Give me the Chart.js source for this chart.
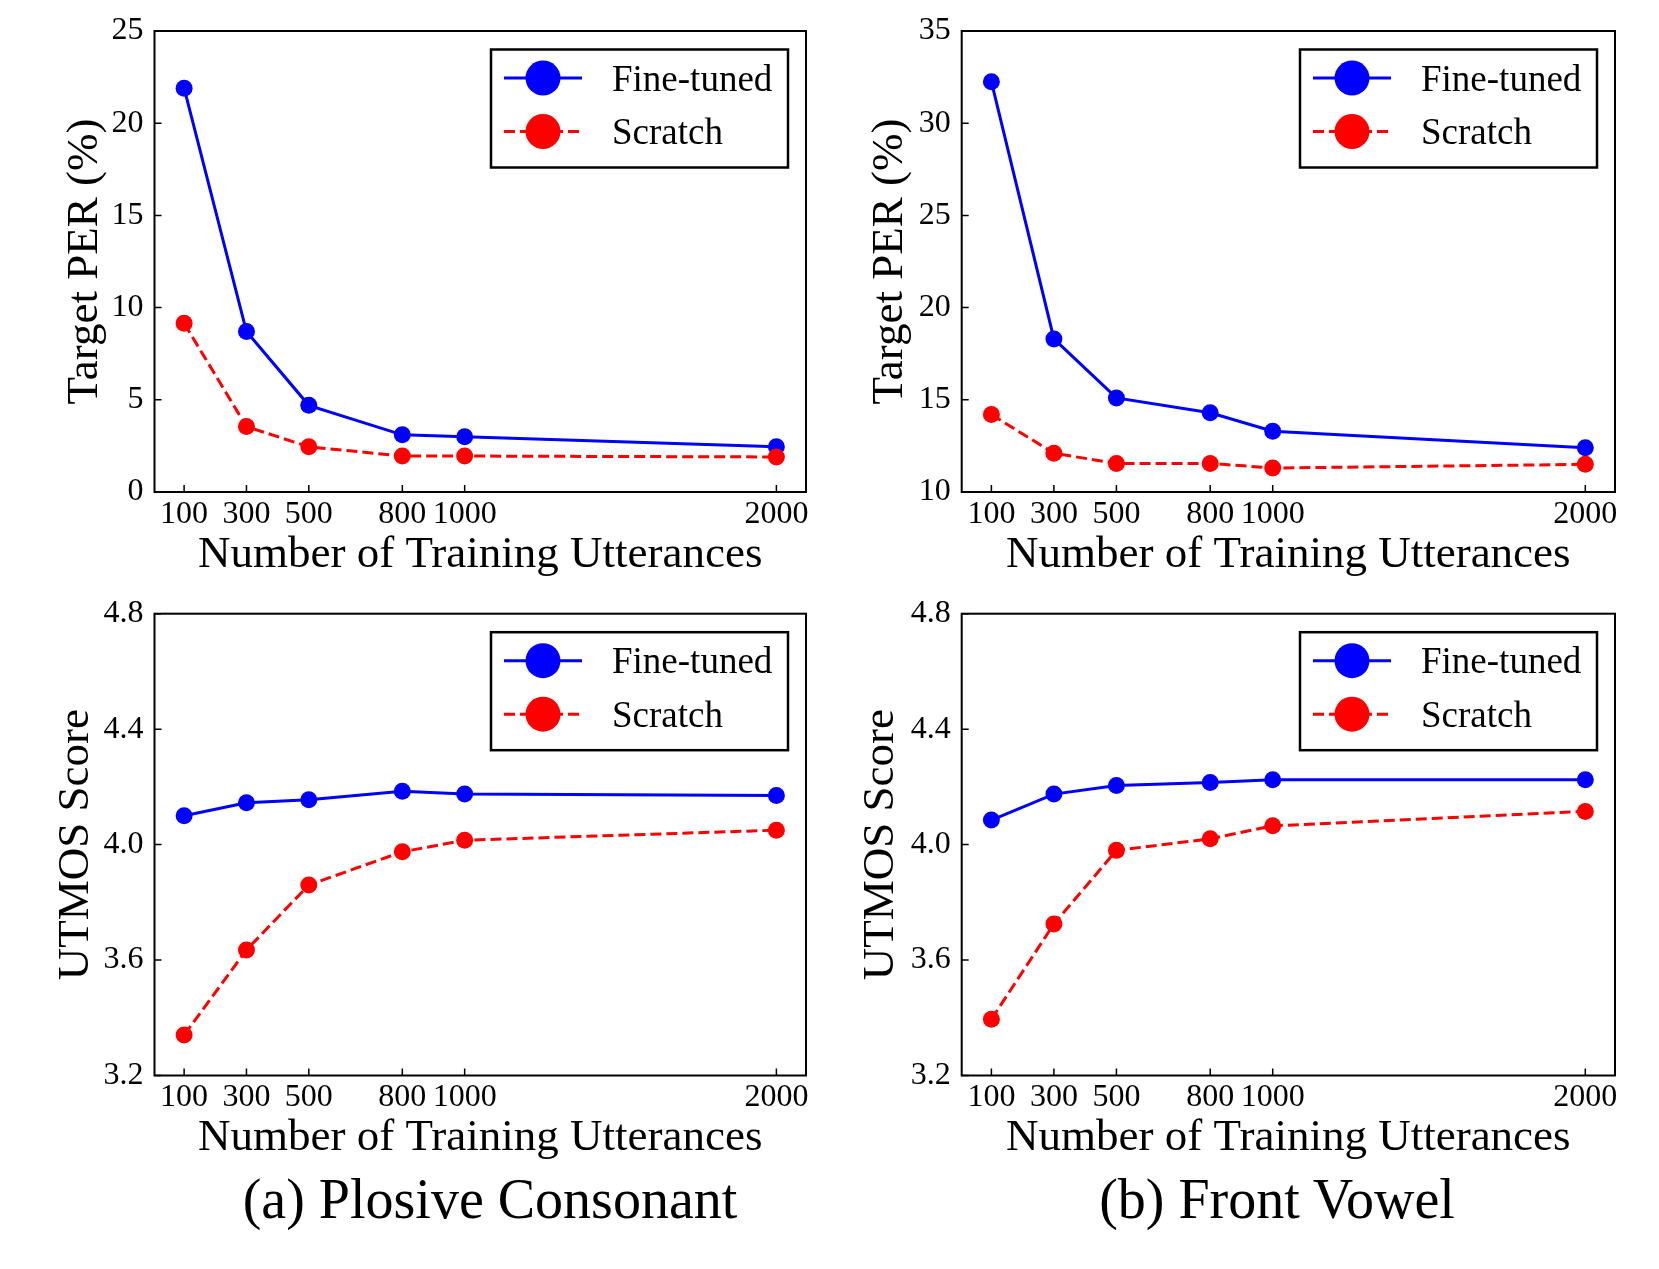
<!DOCTYPE html>
<html>
<head>
<meta charset="utf-8">
<script src="https://cdn.jsdelivr.net/npm/chart.js@4.4.1/dist/chart.umd.min.js"></script>
<style>
  html, body { margin: 0; padding: 0; background: #fff; }
  #page { position: relative; width: 1659px; height: 1269px; background: #fff; }
  canvas { position: absolute; }
  .caption {
    position: absolute; width: 700px; text-align: center; color: #000;
    font-family: 'Liberation Serif', 'Times New Roman', serif;
    font-size: 56px; line-height: 56px;
  }
</style>
</head>
<body>
<div id="page">
  <canvas id="perPlosive" width="829" height="595" style="left:0px;top:0px"></canvas>
  <canvas id="perVowel" width="830" height="595" style="left:829px;top:0px"></canvas>
  <canvas id="mosPlosive" width="829" height="605" style="left:0px;top:585px"></canvas>
  <canvas id="mosVowel" width="830" height="605" style="left:829px;top:585px"></canvas>
  <div class="caption" id="capA" style="left:140px;top:1171px"></div>
  <div class="caption" id="capB" style="left:927px;top:1171px"></div>
</div>
<script>
// x positions (number of training utterances)
const utterances = [100, 300, 500, 800, 1000, 2000];
const seriesNames = ['Fine-tuned', 'Scratch'];
const panelCaptions = ['(a) Plosive Consonant', '(b) Front Vowel'];

// Target PER (%)
const plosivePerFinetuned = [21.9, 8.7, 4.7, 3.1, 3.0, 2.45];
const plosivePerScratch = [9.15, 3.55, 2.45, 1.95, 1.95, 1.9];
const vowelPerFinetuned = [32.25, 18.3, 15.1, 14.3, 13.3, 12.4];
const vowelPerScratch = [14.2, 12.1, 11.55, 11.55, 11.3, 11.5];

// UTMOS score
const plosiveMosFinetuned = [4.10, 4.145, 4.155, 4.185, 4.175, 4.17];
const plosiveMosScratch = [3.34, 3.635, 3.86, 3.975, 4.015, 4.05];
const vowelMosFinetuned = [4.085, 4.175, 4.205, 4.215, 4.225, 4.225];
const vowelMosScratch = [3.395, 3.725, 3.98, 4.02, 4.065, 4.115];

// tick labels
const plosivePerTicks = [0, 5, 10, 15, 20, 25];
const vowelPerTicks = [10, 15, 20, 25, 30, 35];
const mosTicks = [3.2, 3.6, 4.0, 4.4, 4.8];

const perTitle = 'Target PER (%)';
const mosTitle = 'UTMOS Score';
const xTitle = 'Number of Training Utterances';

const SERIF = "'Liberation Serif', 'Times New Roman', serif";
const BLUE = '#0000ff';
const RED = '#ff0000';

Chart.defaults.font.family = SERIF;
Chart.defaults.color = '#000';

// box around the plot area + inward tick marks
const frameTicks = {
  id: 'frameTicks',
  afterDraw(chart) {
    const { ctx, chartArea: a, scales } = chart;
    ctx.save();
    ctx.strokeStyle = '#000';
    ctx.lineWidth = 1.5;
    ctx.beginPath();
    scales.x.ticks.forEach(t => {
      const px = scales.x.getPixelForValue(t.value);
      ctx.moveTo(px, a.bottom);
      ctx.lineTo(px, a.bottom - 7);
    });
    scales.y.ticks.forEach(t => {
      const py = scales.y.getPixelForValue(t.value);
      ctx.moveTo(a.left, py);
      ctx.lineTo(a.left + 7, py);
    });
    ctx.stroke();
    ctx.lineWidth = 2;
    ctx.strokeRect(a.left, a.top, a.right - a.left, a.bottom - a.top);
    ctx.restore();
  }
};

// matplotlib style legend box (line + big marker)
const boxLegend = {
  id: 'boxLegend',
  afterDatasetsDraw(chart) {
    const { ctx, chartArea: a } = chart;
    const w = 297, h = 118;
    const x0 = a.right - 18 - w, y0 = a.top + 18.5;
    ctx.save();
    ctx.fillStyle = '#fff';
    ctx.fillRect(x0, y0, w, h);
    ctx.strokeStyle = '#000';
    ctx.lineWidth = 2.5;
    ctx.strokeRect(x0, y0, w, h);
    const rows = [28.5, 82];
    seriesNames.forEach((name, i) => {
      const ds = chart.data.datasets.find(d => d.label === name);
      const cy = y0 + rows[i];
      ctx.strokeStyle = ds.borderColor;
      ctx.lineWidth = ds.borderWidth;
      ctx.setLineDash(ds.borderDash || []);
      ctx.beginPath();
      ctx.moveTo(x0 + 13, cy);
      ctx.lineTo(x0 + 91, cy);
      ctx.stroke();
      ctx.setLineDash([]);
      ctx.fillStyle = ds.backgroundColor;
      ctx.beginPath();
      ctx.arc(x0 + 52, cy, 17.5, 0, Math.PI * 2);
      ctx.fill();
      ctx.fillStyle = '#000';
      ctx.font = '37px ' + SERIF;
      ctx.textBaseline = 'middle';
      ctx.textAlign = 'left';
      ctx.fillText(name, x0 + 121, cy + 3);
    });
    ctx.restore();
  }
};

function points(ys) {
  return utterances.map((x, i) => ({ x: x, y: ys[i] }));
}

function makePanel(id, fine, scratch, yTicks, yTitle, decimals, lay) {
  new Chart(document.getElementById(id), {
    type: 'line',
    data: {
      datasets: [
        {
          label: seriesNames[0], data: points(fine), order: 1,
          borderColor: BLUE, backgroundColor: BLUE, borderWidth: 3,
          pointRadius: 8.5, pointBorderWidth: 0, pointBackgroundColor: BLUE,
          tension: 0, fill: false
        },
        {
          label: seriesNames[1], data: points(scratch), order: 0,
          borderColor: RED, backgroundColor: RED, borderWidth: 3, borderDash: [11, 5],
          pointRadius: 8.5, pointBorderWidth: 0, pointBackgroundColor: RED,
          tension: 0, fill: false
        }
      ]
    },
    options: {
      responsive: false,
      animation: false,
      devicePixelRatio: 1,
      layout: { padding: { left: 0, top: lay.top, right: lay.right, bottom: 0 } },
      plugins: { legend: { display: false }, tooltip: { enabled: false } },
      scales: {
        x: {
          type: 'linear',
          min: 5, max: 2095,
          afterBuildTicks: s => { s.ticks = utterances.map(v => ({ value: v })); },
          afterFit: s => { s.height = lay.xHeight; },
          grid: { display: false },
          border: { display: false },
          ticks: {
            autoSkip: false, maxRotation: 0, padding: -5, color: '#000', font: { size: 32 },
            callback: v => String(v)
          },
          title: {
            display: true, text: xTitle, color: '#000',
            font: { size: 45 }, padding: { top: 0, bottom: lay.xTitlePad }
          }
        },
        y: {
          type: 'linear',
          min: yTicks[0], max: yTicks[yTicks.length - 1],
          afterBuildTicks: s => { s.ticks = yTicks.map(v => ({ value: v })); },
          afterFit: s => { s.width = lay.yWidth; },
          grid: { display: false },
          border: { display: false },
          ticks: {
            padding: 3, color: '#000', font: { size: 32 },
            callback: v => Number(v).toFixed(decimals)
          },
          title: {
            display: true, text: yTitle, color: '#000',
            font: { size: 45 }, padding: { top: lay.yTitlePad, bottom: 0 }
          }
        }
      }
    },
    plugins: [frameTicks, boxLegend]
  });
}

makePanel('perPlosive', plosivePerFinetuned, plosivePerScratch, plosivePerTicks, perTitle, 0,
  { top: 31, right: 23, yWidth: 154.5, xHeight: 103, yTitlePad: 58, xTitlePad: 13 });
makePanel('perVowel', vowelPerFinetuned, vowelPerScratch, vowelPerTicks, perTitle, 0,
  { top: 31, right: 44, yWidth: 132.7, xHeight: 103, yTitlePad: 34, xTitlePad: 13 });
makePanel('mosPlosive', plosiveMosFinetuned, plosiveMosScratch, mosTicks, mosTitle, 1,
  { top: 28.7, right: 23, yWidth: 154.5, xHeight: 114.5, yTitlePad: 49, xTitlePad: 25 });
makePanel('mosVowel', vowelMosFinetuned, vowelMosScratch, mosTicks, mosTitle, 1,
  { top: 28.7, right: 44, yWidth: 132.7, xHeight: 114.5, yTitlePad: 25, xTitlePad: 25 });

document.getElementById('capA').textContent = panelCaptions[0];
document.getElementById('capB').textContent = panelCaptions[1];
</script>
</body>
</html>
